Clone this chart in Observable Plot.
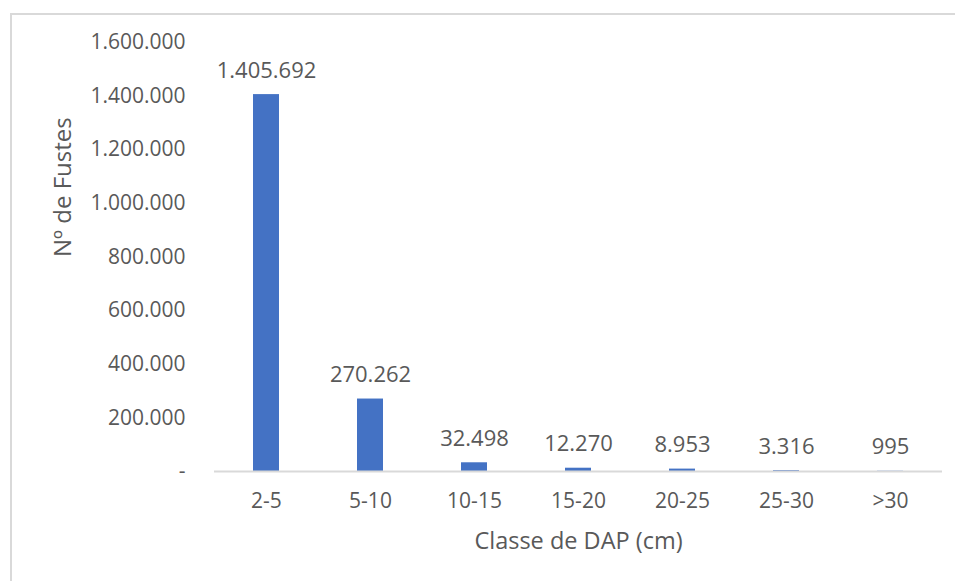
<!DOCTYPE html>
<html>
<head>
<meta charset="utf-8">
<script src="https://cdn.jsdelivr.net/npm/d3@7"></script>
<script src="https://cdn.jsdelivr.net/npm/@observablehq/plot@0.6"></script>
<style>
  html, body { margin: 0; padding: 0; background: white; }
  #wrap { position: relative; width: 955px; height: 581px; overflow: hidden; }
  #border { position: absolute; left: 10px; top: 13px; width: 960px; height: 600px; border: 2px solid #d9d9d9; box-sizing: border-box; pointer-events: none; }
</style>
</head>
<body>
<div id="wrap"><div id="border"></div></div>
<script>
const categories = ["2-5", "5-10", "10-15", "15-20", "20-25", "25-30", ">30"];
const values = [1405692, 270262, 32498, 12270, 8953, 3316, 995];
const yTicks = [0, 200000, 400000, 600000, 800000, 1000000, 1200000, 1400000, 1600000];
const xTitle = "Classe de DAP (cm)";
const yTitle = "Nº de Fustes";

const data = categories.map((c, i) => ({cat: c, value: values[i]}));
const locale = d3.formatLocale({decimal: ",", thousands: ".", grouping: [3], currency: ["", ""]});
const fmt = locale.format(",d");
const textColor = "#595959";

const chart = Plot.plot({
  width: 955,
  height: 581,
  marginLeft: 214,
  marginRight: 13,
  marginTop: 42,
  marginBottom: 110,
  style: {fontFamily: "Open Sans", fontSize: "21px", color: textColor, background: "transparent"},
  x: {domain: categories, paddingInner: 0.75, paddingOuter: 0.375, label: null},
  y: {domain: [0, 1600000], label: null},
  marks: [
    Plot.barY(data, {x: "cat", y: "value", fill: "#4472C4"}),
    Plot.ruleY([0], {stroke: "#d9d9d9", strokeWidth: 2}),
    Plot.axisY({ticks: yTicks, tickSize: 0, tickPadding: 29, tickFormat: d => d === 0 ? "-" : fmt(d), label: null, fill: textColor}),
    Plot.axisX({tickSize: 0, tickPadding: 22, label: null, fill: textColor}),
    Plot.text(data, {x: "cat", y: "value", text: d => fmt(d.value), dy: -24, fill: textColor, fontSize: 22}),
    Plot.text([yTitle], {frameAnchor: "left", text: d => d, rotate: -90, dx: -151, fill: textColor, fontSize: 24}),
    Plot.text([xTitle], {frameAnchor: "bottom", text: d => d, dy: 77, fill: textColor, fontSize: 23.5})
  ]
});
document.getElementById("wrap").prepend(chart);
</script>
</body>
</html>
